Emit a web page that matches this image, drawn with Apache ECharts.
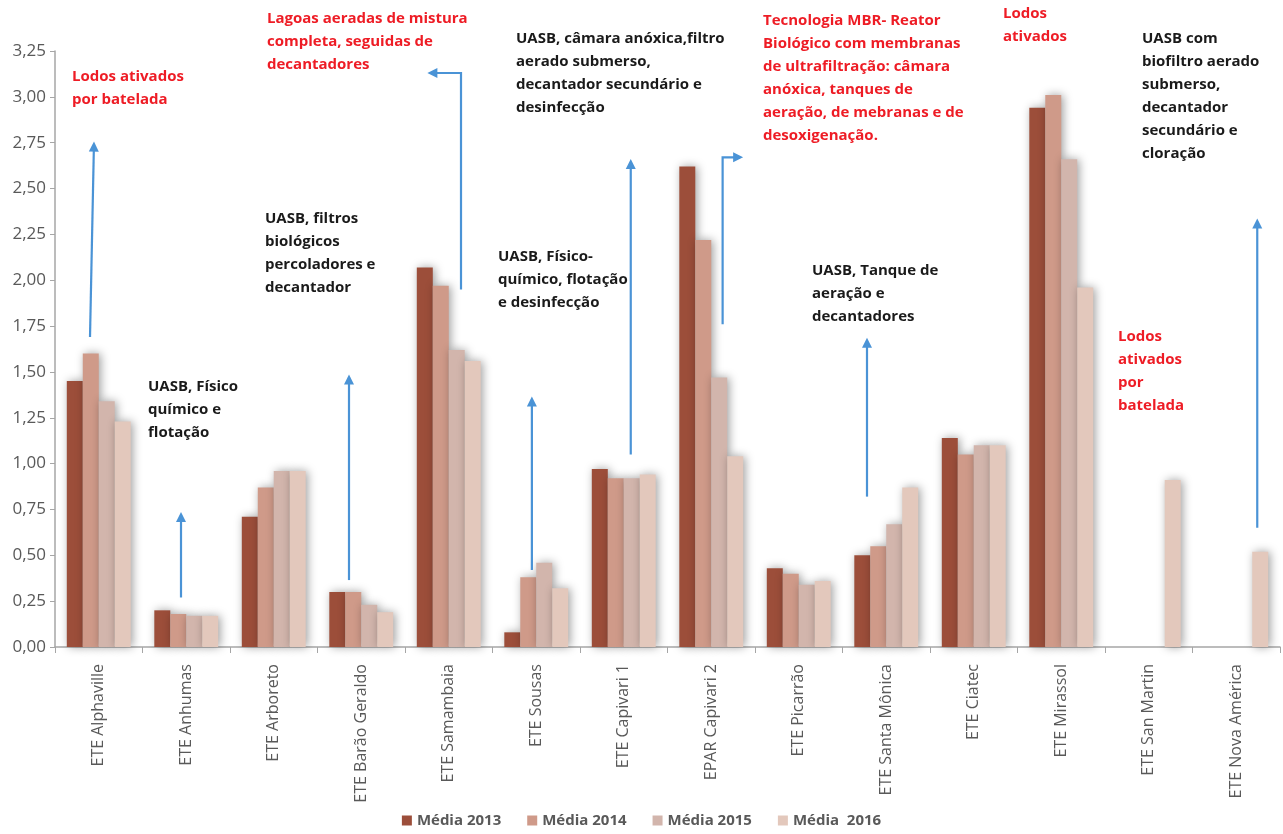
<!DOCTYPE html>
<html>
<head>
<meta charset="utf-8">
<script src="https://cdn.jsdelivr.net/npm/echarts@6/dist/echarts.min.js"></script>
<style>
  html, body { margin: 0; padding: 0; background: #fff; }
  #chart { width: 1283px; height: 834px; }
</style>
</head>
<body>
<div id="chart"></div>
<script>
// Estações de tratamento
const categories = [
  'ETE Alphaville', 'ETE Anhumas', 'ETE Arboreto', 'ETE Barão Geraldo',
  'ETE Samambaia', 'ETE Sousas', 'ETE Capivari 1', 'EPAR Capivari 2',
  'ETE Picarrão', 'ETE Santa Mônica', 'ETE Ciatec', 'ETE Mirassol',
  'ETE San Martin', 'ETE Nova América'
];

const seriesNames = ['Média 2013', 'Média 2014', 'Média 2015', 'Média  2016'];

const media2013 = [1.45, 0.20, 0.71, 0.30, 2.07, 0.08, 0.97, 2.62, 0.43, 0.50, 1.14, 2.94, null, null];
const media2014 = [1.60, 0.18, 0.87, 0.30, 1.97, 0.38, 0.92, 2.22, 0.40, 0.55, 1.05, 3.01, null, null];
const media2015 = [1.34, 0.17, 0.96, 0.23, 1.62, 0.46, 0.92, 1.47, 0.34, 0.67, 1.10, 2.66, null, null];
const media2016 = [1.23, 0.17, 0.96, 0.19, 1.56, 0.32, 0.94, 1.04, 0.36, 0.87, 1.10, 1.96, 0.91, 0.52];

const yTicks = { min: 0, max: 3.25, interval: 0.25 };

// Setas: categoria e pontos [deslocamento na categoria, valor]
const arrows = [
  { cat: 0,  pts: [[-0.10, 1.69], [-0.055, 2.74]] },
  { cat: 1,  pts: [[-0.06, 0.27], [-0.06, 0.72]] },
  { cat: 3,  pts: [[-0.14, 0.365], [-0.14, 1.47]] },
  { cat: 4,  pts: [[0.14, 1.95], [0.14, 3.13], [-0.21, 3.13]] },
  { cat: 5,  pts: [[-0.05, 0.42], [-0.05, 1.35]] },
  { cat: 6,  pts: [[0.08, 1.05], [0.08, 2.645]] },
  { cat: 7,  pts: [[0.13, 1.76], [0.13, 2.67], [0.33, 2.67]] },
  { cat: 9,  pts: [[-0.22, 0.82], [-0.22, 1.67]] },
  { cat: 13, pts: [[0.24, 0.65], [0.24, 2.32]] }
];

// Descrições dos processos
const notes = [
  { text: 'Lodos ativados\npor batelada', red: true },
  { text: 'UASB, Físico\nquímico e\nflotação', red: false },
  { text: 'UASB, filtros\nbiológicos\npercoladores e\ndecantador', red: false },
  { text: 'Lagoas aeradas de mistura\ncompleta, seguidas de\ndecantadores', red: true },
  { text: 'UASB, câmara anóxica,filtro\naerado submerso,\ndecantador secundário e\ndesinfecção', red: false },
  { text: 'UASB, Físico-\nquímico, flotação\ne desinfecção', red: false },
  { text: 'Tecnologia MBR- Reator\nBiológico com membranas\nde ultrafiltração: câmara\nanóxica, tanques de\naeração, de mebranas e de\ndesoxigenação.', red: true },
  { text: 'Lodos\nativados', red: true },
  { text: 'UASB com\nbiofiltro aerado\nsubmerso,\ndecantador\nsecundário e\ncloração', red: false },
  { text: 'UASB, Tanque de\naeração e\ndecantadores', red: false },
  { text: 'Lodos\nativados\npor\nbatelada', red: true }
];

// Posição (px) de cada descrição
const noteLayout = [
  [72, 65], [148, 375], [265, 207], [267, 7], [516, 27], [498, 245],
  [763, 9], [1003, 2], [1142, 27], [812, 259], [1118, 325]
];

const colors = ['#9C4E3A', '#CF9A89', '#D2B5AC', '#E3C8BC'];
const RED = '#EE1C25';
const BLUE = '#4A93D6';
const FONT = '"Open Sans", "DejaVu Sans", sans-serif';

const chart = echarts.init(document.getElementById('chart'), null, { renderer: 'canvas' });

const barData = [media2013, media2014, media2015, media2016];

const option = {
  animation: false,
  backgroundColor: '#ffffff',
  grid: { left: 55, right: 3, top: 51, bottom: 187, containLabel: false },
  legend: {
    bottom: 1,
    left: 'center',
    itemWidth: 10,
    itemHeight: 10,
    itemGap: 26,
    icon: 'rect',
    textStyle: { color: '#595959', fontFamily: FONT, fontWeight: 'bold', fontSize: 15 },
    data: seriesNames
  },
  xAxis: {
    type: 'category',
    data: categories,
    axisLine: { lineStyle: { color: '#A6A6A6', width: 1.5 } },
    axisTick: { show: true, length: 6, lineStyle: { color: '#A6A6A6' } },
    axisLabel: {
      rotate: 90,
      interval: 0,
      margin: 17,
      color: '#595959',
      fontFamily: FONT,
      fontSize: 16
    }
  },
  yAxis: {
    type: 'value',
    min: yTicks.min,
    max: yTicks.max,
    interval: yTicks.interval,
    splitLine: { show: false },
    axisLine: { show: true, lineStyle: { color: '#A6A6A6', width: 1.5 } },
    axisTick: { show: true, length: 5, lineStyle: { color: '#A6A6A6' } },
    axisLabel: {
      color: '#595959',
      fontFamily: FONT,
      fontSize: 17,
      margin: 9,
      formatter: v => v.toFixed(2).replace('.', ',')
    }
  },
  series: seriesNames.map((name, i) => ({
    name,
    type: 'bar',
    data: barData[i],
    barGap: '0%',
    barCategoryGap: '27%',
    itemStyle: {
      color: colors[i],
      shadowBlur: 10,
      shadowColor: 'rgba(0,0,0,0.38)',
      shadowOffsetX: 2,
      shadowOffsetY: 0
    }
  }))
};

chart.setOption(option);

// Setas e textos sobre o gráfico
const graphics = [];
const step = chart.convertToPixel({ xAxisIndex: 0 }, 1) - chart.convertToPixel({ xAxisIndex: 0 }, 0);
arrows.forEach(a => {
  const base = chart.convertToPixel({ xAxisIndex: 0 }, a.cat);
  const pts = a.pts.map(p => [base + p[0] * step, chart.convertToPixel({ yAxisIndex: 0 }, p[1])]);
  const n = pts.length;
  const [x1, y1] = pts[n - 2];
  const [x2, y2] = pts[n - 1];
  const ang = Math.atan2(y2 - y1, x2 - x1);
  const L = 10, W = 5;
  const tip = [x2 + Math.cos(ang) * 3, y2 + Math.sin(ang) * 3];
  const bx = tip[0] - Math.cos(ang) * L, by = tip[1] - Math.sin(ang) * L;
  const nx = -Math.sin(ang) * W, ny = Math.cos(ang) * W;
  graphics.push({
    type: 'polyline',
    shape: { points: pts },
    style: { stroke: BLUE, lineWidth: 2.2, fill: null },
    z: 100
  });
  graphics.push({
    type: 'polygon',
    shape: { points: [tip, [bx + nx, by + ny], [bx - nx, by - ny]] },
    style: { fill: BLUE },
    z: 100
  });
});
notes.forEach((n, i) => {
  graphics.push({
    type: 'text',
    left: noteLayout[i][0],
    top: noteLayout[i][1],
    z: 100,
    style: {
      text: n.text,
      fill: n.red ? RED : '#1A1A1A',
      font: 'bold 15px ' + FONT,
      lineHeight: 23
    }
  });
});
chart.setOption({ graphic: graphics });
</script>
</body>
</html>
